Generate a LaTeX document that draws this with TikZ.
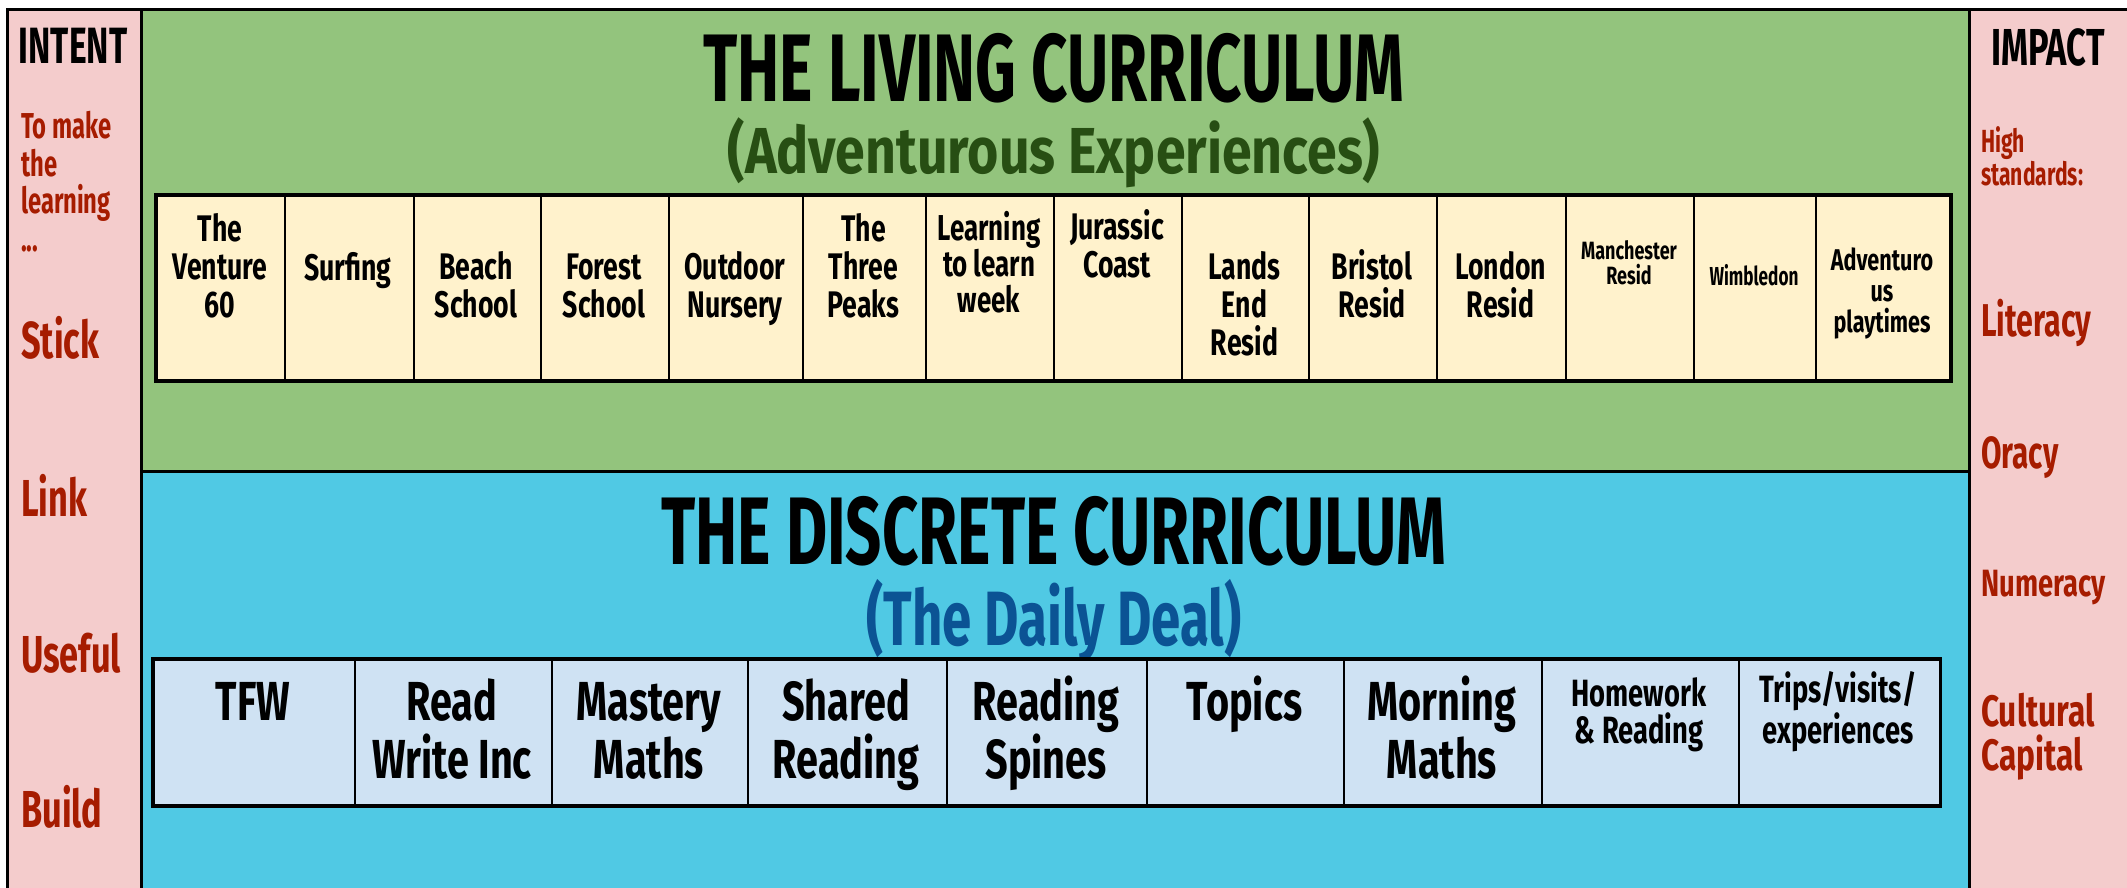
\documentclass[tikz,border=0pt]{standalone}
\usepackage{fontspec}
\usepackage{graphicx}
\setmainfont{Fira Sans}[FakeStretch=0.66]
\newfontfamily\widefam{Fira Sans}[FakeStretch=0.72]
\definecolor{pinkbg}{HTML}{F4CCCC}
\definecolor{greenbg}{HTML}{93C47D}
\definecolor{bluebg}{HTML}{50C9E4}
\definecolor{yellowcell}{HTML}{FFF2CC}
\definecolor{bluecell}{HTML}{CFE2F3}
\definecolor{redtxt}{HTML}{A61C00}
\definecolor{dgreen}{HTML}{274E13}
\definecolor{dblue}{HTML}{0B5394}
\newcommand{\fsz}[2]{\fontsize{#1}{#2}\selectfont}
\tikzset{
  panel/.style={draw=black, line width=3pt, anchor=north west, inner sep=0pt},
  topcell/.style={draw=black, line width=2pt, fill=yellowcell, anchor=north west, inner sep=0pt},
  botcell/.style={draw=black, line width=2pt, fill=bluecell, anchor=north west, inner sep=0pt},
  txt/.style={inner sep=0pt, font=\bfseries, align=center, anchor=base},
  ltxt/.style={inner sep=0pt, font=\bfseries, align=left, anchor=base west, text=redtxt},
  toptxt/.style={txt, font=\widefam\bfseries\fsz{37}{38}},
  bottxt/.style={txt, font=\widefam\bfseries\fsz{55}{58}},
}
\begin{document}
\begin{tikzpicture}[x=1pt,y=-1pt]
\useasboundingbox (0,0) rectangle (2127,887);
\fill[white] (0,0) rectangle (2127,887);
\begin{scope}
\clip (0,0) rectangle (2127,887);
% panels
\node[panel, fill=pinkbg, minimum width=134pt, minimum height=890pt] (intent) at (6,8) {};
\node[panel, fill=greenbg, minimum width=1828pt, minimum height=462pt] (living) at (140,8) {};
\node[panel, fill=bluebg, minimum width=1828pt, minimum height=430pt] (discrete) at (140,470) {};
\node[panel, fill=pinkbg, minimum width=170pt, minimum height=890pt] (impact) at (1968,8) {};
\end{scope}

% titles
\node[txt, font=\bfseries\fsz{96}{100}] (t1) at (1054,101.7) {THE LIVING CURRICULUM};
\node[txt, font=\bfseries\fsz{65}{70}, text=dgreen] (t1s) at (1054,173) {\scalebox{1.25}[1]{(Adventurous Experiences)}};
\node[txt, font=\bfseries\fsz{96}{100}] (t2) at (1054,564) {THE DISCRETE CURRICULUM};
\node[txt, font=\bfseries\fsz{77}{80}, text=dblue] (t2s) at (1054,645) {\scalebox{1.04}[1]{(The Daily Deal)}};

% top row cells
\foreach \i/\a/\b in {1/156/284, 2/284/412.5, 3/412.5/540, 4/540/668, 5/668/802, 6/802/925, 7/925/1053,
  8/1053/1181, 9/1181/1308, 10/1308/1436, 11/1436/1565, 12/1565/1693, 13/1693/1815, 14/1815/1949}
  \node[topcell, minimum width={(\b-\a)*1pt}, minimum height=184pt] (L\i) at (\a,195) {};
\draw[line width=3.5pt] (L1.north west) rectangle (L14.south east);

% bottom row cells
\foreach \i/\a/\b in {1/153/353.6, 2/353.6/551, 3/551/747.4, 4/747.4/945.5, 5/945.5/1146,
  6/1146/1343, 7/1343/1540.5, 8/1540.5/1738, 9/1738/1938.7}
  \node[botcell, minimum width={(\b-\a)*1pt}, minimum height=145pt] (D\i) at (\a,659) {};
\draw[line width=3.5pt] (D1.north west) rectangle (D9.south east);

% top row texts (anchored at the baseline of the last line)
\node[toptxt] (l1) at (220,317) {The\\Venture\\60};
\node[toptxt] (l2) at (348,280) {Surfing};
\node[toptxt] (l3) at (476,317) {Beach\\School};
\node[toptxt] (l4) at (604,317) {Forest\\School};
\node[toptxt] (l5) at (735,317) {Outdoor\\Nursery};
\node[toptxt] (l6) at (863.5,317) {The\\Three\\Peaks};
\node[txt, font=\widefam\bfseries\fsz{36}{36}] (l7) at (989,312) {Learning\\to learn\\week};
\node[toptxt] (l8) at (1117,277) {Jurassic\\Coast};
\node[toptxt] (l9) at (1244.5,355) {Lands\\End\\Resid};
\node[toptxt] (l10) at (1372,317) {Bristol\\Resid};
\node[toptxt] (l11) at (1500.5,317) {London\\Resid};
\node[txt, font=\widefam\bfseries\fsz{25}{25}] (l12) at (1629,284) {Manchester\\Resid};
\node[txt, font=\bfseries\fsz{26}{26}] (l13) at (1754,285) {Wimbledon};
\node[txt, font=\widefam\bfseries\fsz{30}{31}] (l14) at (1882,332) {Adventuro\\us\\playtimes};

% bottom row texts
\node[bottxt] (d1) at (253,720) {TFW};
\node[bottxt] (d2) at (452,778) {Read\\Write Inc};
\node[bottxt] (d3) at (649,778) {Mastery\\Maths};
\node[bottxt] (d4) at (846,778) {Shared\\Reading};
\node[bottxt] (d5) at (1046,778) {Reading\\Spines};
\node[bottxt] (d6) at (1244.5,720) {Topics};
\node[bottxt] (d7) at (1442,778) {Morning\\Maths};
\node[txt, font=\widefam\bfseries\fsz{38}{37}] (d8) at (1639,743) {Homework\\\& Reading};
\node[txt, font=\widefam\bfseries\fsz{38}{37}] (d9) at (1838,743) {Trips/visits/\\experiences};

% intent column
\node[txt, font=\bfseries\fsz{51}{51}] (int) at (73,63) {INTENT};
\node[ltxt, font=\bfseries\fsz{36}{37.5}] (tomake) at (21,251) {To make\\the\\learning\\...};
\node[ltxt, font=\bfseries\fsz{52}{52}] (stick) at (21,358) {Stick};
\node[ltxt, font=\bfseries\fsz{52}{52}] (link) at (21,516) {Link};
\node[ltxt, font=\bfseries\fsz{52}{52}] (useful) at (21,672) {Useful};
\node[ltxt, font=\bfseries\fsz{52}{52}] (build) at (21,827) {Build};

% impact column
\node[txt, font=\bfseries\fsz{52}{52}] (imp) at (2048,65.7) {IMPACT};
\node[ltxt, font=\bfseries\fsz{32}{31}] (high) at (1981,185) {High\\standards:};
\node[ltxt, font=\bfseries\fsz{46}{46}] (lit) at (1981,336.7) {Literacy};
\node[ltxt, font=\bfseries\fsz{45}{45}] (ora) at (1981,468) {Oracy};
\node[ltxt, font=\widefam\bfseries\fsz{38}{38}] (num) at (1981,596) {Numeracy};
\node[ltxt, font=\widefam\bfseries\fsz{44}{44}] (cul) at (1981,770) {Cultural\\Capital};
\end{tikzpicture}
\end{document}
